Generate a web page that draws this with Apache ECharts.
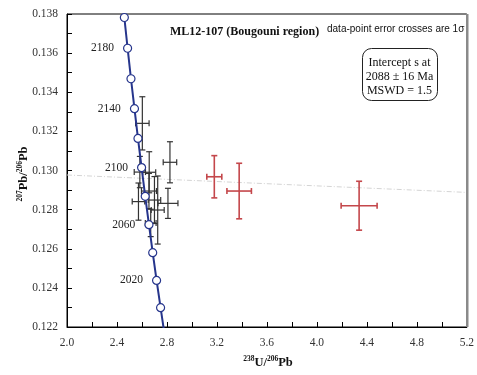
<!DOCTYPE html>
<html><head><meta charset="utf-8">
<script src="https://cdn.jsdelivr.net/npm/echarts@6/dist/echarts.min.js"></script>
<style>html,body{margin:0;padding:0;background:#fff}#c{width:477px;height:375px}</style>
</head><body><div id="c"></div>
<script>
// Concordia ages (Ma) and read-off positions
const concAges = [2200,2180,2160,2140,2120,2100,2080,2060,2040,2020,2000,1980];
const concX = [2.459,2.485,2.512,2.540,2.568,2.597,2.626,2.656,2.686,2.717,2.749,2.781];
const concY = [0.13782,0.13625,0.13469,0.13316,0.13164,0.13015,0.12868,0.12723,0.12580,0.12438,0.12299,0.12161];
const concLabels = [2180,2140,2100,2060,2020];

// black error crosses
const blkX    = [2.603,2.824,2.658,2.572,2.808,2.726,2.656,2.670,2.700,2.583];
const blkY    = [0.13241,0.13042,0.12991,0.12841,0.12832,0.12798,0.12895,0.12732,0.12849,0.12992];
const blkXErr = [0.054,0.054,0.052,0.050,0.080,0.052,0.060,0.043,0.050,0.045];
const blkYErr = [0.00136,0.00105,0.00105,0.00095,0.00077,0.00174,0.0009,0.0007,0.0012,0.0008];

// red error crosses
const redX    = [3.179,3.378,4.338];
const redY    = [0.12968,0.12895,0.12820];
const redXErr = [0.060,0.098,0.144];
const redYErr = [0.00108,0.00142,0.00125];

// discordia
const discX = [2.0,5.2];
const discY = [0.12977,0.12888];

const xTicks = {min:2.0,max:5.2,interval:0.4};
const yTicks = {min:0.122,max:0.138,interval:0.002};

const chart = echarts.init(document.getElementById('c'));
const serif = 'Liberation Serif';

function crossRender(color,width,cap){
  return function(params, api){
    const x = api.value(0), y = api.value(1), ex = api.value(2), ey = api.value(3);
    const l = api.coord([x-ex,y]), r = api.coord([x+ex,y]);
    const t = api.coord([x,y+ey]), b = api.coord([x,y-ey]);
    const st = {stroke:color,lineWidth:width};
    return {type:'group',children:[
      {type:'line',shape:{x1:l[0],y1:l[1],x2:r[0],y2:r[1]},style:st},
      {type:'line',shape:{x1:t[0],y1:t[1],x2:b[0],y2:b[1]},style:st},
      {type:'line',shape:{x1:l[0],y1:l[1]-cap,x2:l[0],y2:l[1]+cap},style:st},
      {type:'line',shape:{x1:r[0],y1:r[1]-cap,x2:r[0],y2:r[1]+cap},style:st},
      {type:'line',shape:{x1:t[0]-cap,y1:t[1],x2:t[0]+cap,y2:t[1]},style:st},
      {type:'line',shape:{x1:b[0]-cap,y1:b[1],x2:b[0]+cap,y2:b[1]},style:st}
    ]};
  };
}

const concData = concAges.map((a,i)=>{
  const item = {value:[concX[i],concY[i]]};
  if (a===1980) item.symbol='none';
  if (concLabels.includes(a)) item.label={show:true,formatter:String(a),position:'left',distance:9,fontFamily:serif,fontSize:11.5,color:'#222'};
  return item;
});

chart.setOption({
  animation:false,
  grid:{left:67,right:9,top:14,bottom:48,show:true,borderColor:'#000',borderWidth:1},
  xAxis:{type:'value',min:xTicks.min,max:xTicks.max,interval:xTicks.interval,
    axisLine:{lineStyle:{color:'#000'}},
    axisTick:{inside:true,length:5,lineStyle:{color:'#000'}},
    minorTick:{show:true,splitNumber:2,length:5,lineStyle:{color:'#000'}},
    splitLine:{show:false},
    axisLabel:{formatter:v=>v.toFixed(1),fontFamily:serif,fontSize:11.5,color:'#333',margin:10}},
  yAxis:{type:'value',min:yTicks.min,max:yTicks.max,interval:yTicks.interval,
    axisLine:{show:true,lineStyle:{color:'#000'}},
    axisTick:{show:true,inside:true,length:5,lineStyle:{color:'#000'}},
    minorTick:{show:true,splitNumber:2,length:5,lineStyle:{color:'#000'}},
    splitLine:{show:false},
    axisLabel:{formatter:v=>v.toFixed(3),fontFamily:serif,fontSize:11.5,color:'#333',margin:9}},
  series:[
    {type:'line',data:discX.map((x,i)=>[x,discY[i]]),symbol:'none',z:1,
     lineStyle:{color:'#d4d4d4',width:1,type:[5,2,1,2]}},
    {type:'custom',renderItem:crossRender('#333',1.2,3),z:3,
     data:blkX.map((x,i)=>[x,blkY[i],blkXErr[i],blkYErr[i]])},
    {type:'custom',renderItem:crossRender('#c4474b',1.6,3),z:3,
     data:redX.map((x,i)=>[x,redY[i],redXErr[i],redYErr[i]])},
    {type:'line',data:concData,symbol:'circle',symbolSize:8,z:5,
     lineStyle:{color:'#26358c',width:2},
     itemStyle:{color:'#fff',borderColor:'#26358c',borderWidth:1.2}}
  ],
  graphic:[
    {type:'rect',left:466,top:14,shape:{width:2.5,height:313},style:{fill:'#8a8a8a'},z:10},
    {type:'text',left:170,top:26,style:{text:'ML12-107 (Bougouni region)',font:'bold 12px "Liberation Serif"',fill:'#111'}},
    {type:'text',left:327,top:24,z:20,style:{text:'data-point error crosses are 1σ',font:'10px "Liberation Sans"',fill:'#111'}},
    {type:'rect',left:362,top:48,shape:{width:75,height:52,r:9},style:{fill:'#fff',stroke:'#222',lineWidth:1}},
    {type:'text',x:399.5,y:63,style:{text:'Intercept s at',font:'12px "Liberation Serif"',fill:'#111',textAlign:'center',textVerticalAlign:'middle'}},
    {type:'text',x:399.5,y:77,style:{text:'2088 ± 16 Ma',font:'12px "Liberation Serif"',fill:'#111',textAlign:'center',textVerticalAlign:'middle'}},
    {type:'text',x:399.5,y:91,style:{text:'MSWD = 1.5',font:'12px "Liberation Serif"',fill:'#111',textAlign:'center',textVerticalAlign:'middle'}},
    {type:'text',x:268,y:362,style:{text:'{s|238}{b|U/}{s|206}{b|Pb}',textAlign:'center',textVerticalAlign:'middle',
      rich:{s:{fontFamily:serif,fontWeight:'bold',fontSize:7.5,verticalAlign:'top',lineHeight:14,fill:'#111'},
            b:{fontFamily:serif,fontWeight:'bold',fontSize:12.5,verticalAlign:'bottom',lineHeight:14,fill:'#111'}}}},
    {type:'text',x:23,y:174,rotation:Math.PI/2,style:{text:'{s|207}{b|Pb/}{s|206}{b|Pb}',textAlign:'center',textVerticalAlign:'middle',
      rich:{s:{fontFamily:serif,fontWeight:'bold',fontSize:7.5,verticalAlign:'top',lineHeight:14,fill:'#111'},
            b:{fontFamily:serif,fontWeight:'bold',fontSize:12.5,verticalAlign:'bottom',lineHeight:14,fill:'#111'}}}}
  ]
});
</script></body></html>
